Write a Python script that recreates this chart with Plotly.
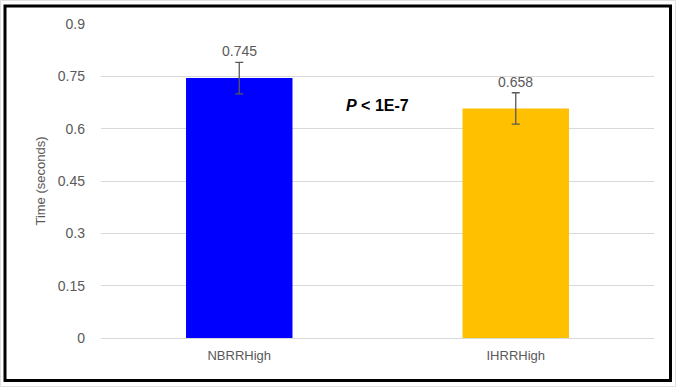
import plotly.graph_objects as go

categories = ["NBRRHigh", "IHRRHigh"]
values = [0.745, 0.658]
errors = [0.045, 0.045]
colors = ["#0000FF", "#FFC000"]
value_labels = ["0.745", "0.658"]
tick_vals = [0, 0.15, 0.3, 0.45, 0.6, 0.75, 0.9]
tick_text = ["0", "0.15", "0.3", "0.45", "0.6", "0.75", "0.9"]

FONT = "Liberation Sans Narrow, Liberation Sans, Arial, sans-serif"
GRAY = "#595959"

fig = go.Figure()
fig.add_trace(go.Bar(
    x=categories, y=values,
    marker=dict(color=colors, line=dict(width=0)),
    error_y=dict(type="data", array=errors, visible=True, color="#595959",
                 thickness=1.3, width=4),
    width=0.385,
    showlegend=False,
    hoverinfo="skip",
))
for c, v, e, t in zip(categories, values, errors, value_labels):
    fig.add_annotation(x=c, y=v + e, text=t, showarrow=False, yanchor="bottom",
                       yshift=1, font=dict(family=FONT, size=14, color=GRAY))

fig.add_annotation(x=0.5, y=0.665, xref="x", yref="y",
                   text="<b><i>P</i> &lt; 1E-7</b>", showarrow=False,
                   font=dict(family=FONT, size=16, color="black"))

fig.update_layout(
    width=676, height=387,
    margin=dict(l=101, r=22, t=24, b=49),
    paper_bgcolor="white", plot_bgcolor="white",
    font=dict(family=FONT, size=13, color=GRAY),
    xaxis=dict(type="category", range=[-0.5, 1.5], showgrid=False,
               showline=False, ticks="", automargin=False,
               ticklabelstandoff=8,
               tickfont=dict(size=13, color=GRAY)),
    yaxis=dict(range=[0, 0.9], tickvals=tick_vals, ticktext=tick_text,
               showgrid=True, gridcolor="#D9D9D9", gridwidth=1,
               zeroline=True, zerolinecolor="#D9D9D9", zerolinewidth=1,
               showline=False, ticks="", ticklabelstandoff=15,
               automargin=False,
               tickfont=dict(size=14, color=GRAY),
               title=dict(text="Time (seconds)", standoff=9,
                          font=dict(size=13, color=GRAY))),
    shapes=[
        dict(type="rect", xref="paper", yref="paper",
             x0=(0.5 - 101) / 553, x1=(675.5 - 101) / 553,
             y0=(338 - 386.5) / 314, y1=(338 - 0.5) / 314,
             line=dict(color="#E0E0E0", width=1), fillcolor="rgba(0,0,0,0)",
             layer="above"),
        dict(type="rect", xref="paper", yref="paper",
             x0=(5 - 101) / 553, x1=(670.5 - 101) / 553,
             y0=(338 - 380.5) / 314, y1=(338 - 6) / 314,
             line=dict(color="black", width=3), fillcolor="rgba(0,0,0,0)",
             layer="above"),
    ],
)

fig.write_html("out.html", config={"displayModeBar": False},
               post_script="document.body.style.margin='0';document.body.style.overflow='hidden';")
